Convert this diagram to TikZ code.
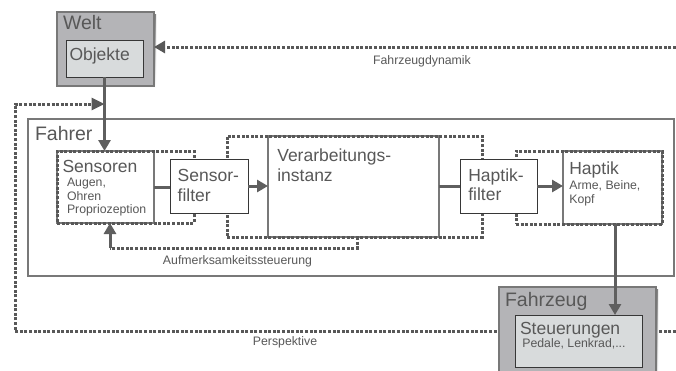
\documentclass[tikz,border=0pt]{standalone}
\usepackage{fontspec}
\setmainfont{Liberation Sans}
\usetikzlibrary{arrows.meta}
\definecolor{txt}{RGB}{88,88,88}
\definecolor{ln}{RGB}{95,95,95}
\definecolor{dot}{RGB}{88,88,88}
\definecolor{edge}{RGB}{120,120,120}
\definecolor{dark}{RGB}{55,55,55}
\definecolor{outerfill}{RGB}{180,180,183}
\definecolor{innerfill}{RGB}{216,219,220}
\definecolor{shade}{RGB}{110,110,110}
\begin{document}
\begin{tikzpicture}[x=1pt,y=-1pt,
  every node/.style={inner sep=0pt, outer sep=0pt},
  frame/.style={anchor=north west, line width=1.2pt},
  big/.style={font=\fontsize{19.5}{22}\selectfont, text=txt, anchor=base west},
  mid/.style={font=\fontsize{17.5}{20}\selectfont, text=txt, anchor=base west},
  small/.style={font=\fontsize{12.3}{14}\selectfont, text=txt, anchor=base west},
  lbl/.style={font=\fontsize{12.3}{14}\selectfont, text=txt, anchor=base},
  conn/.style={draw=ln, line width=3pt},
  tip/.style={-{Triangle[length=11pt,width=12pt]}},
  dotline/.style={draw=dot, line width=3pt, dash pattern=on 3pt off 1.6pt},
  grp/.style={dotline, anchor=north west}
]
\clip (0,0) rectangle (676,370);
\fill[white] (0,0) rectangle (676,370);

% Welt
\fill[shade] (59,14) rectangle (156,88);
\node[frame, draw=edge, fill=outerfill, minimum width=97pt, minimum height=74pt] (welt) at (57,12) {};
\node[frame, draw=dark, line width=0.9pt, fill=innerfill, minimum width=77pt, minimum height=37pt] (objekte) at (66,40) {};

% Fahrer
\node[frame, draw=edge, line width=1.6pt, minimum width=646pt, minimum height=157pt] (fahrer) at (28,119) {};

% Perspektive loop
\coordinate (pR) at (676,331);
\coordinate (pL) at (15,331);
\coordinate (pT) at (15,104);
\draw[dotline, -{Triangle[length=13pt,width=12pt]}] (pR) -- (pL) -- (pT) -- (pT -| objekte.south);

% Fahrzeugdynamik
\coordinate (fdR) at (676,47);
\draw[dotline, -{Triangle[length=11pt,width=12pt]}] (fdR) -- (welt.east |- fdR);

% main boxes
\node[frame, draw=edge, line width=2.4pt, fill=white, minimum width=97pt, minimum height=72pt] (sensoren) at (57,151) {};
\node[frame, draw=edge, line width=2.4pt, fill=white, minimum width=171pt, minimum height=101pt] (verarb) at (268,136) {};
\node[frame, draw=edge, line width=2.4pt, fill=white, minimum width=99pt, minimum height=73pt] (haptik) at (563,151) {};

% dotted groups
\node[grp, minimum width=137pt, minimum height=72pt] (sgrp) at (57,151) {};
\node[grp, minimum width=255pt, minimum height=101pt] (vgrp) at (227,136) {};
\node[grp, minimum width=146pt, minimum height=73pt] (hgrp) at (516,151) {};

% filters
\node[frame, draw=dark, line width=0.9pt, fill=white, minimum width=78pt, minimum height=54pt] (sfilter) at (170,159) {};
\node[frame, draw=dark, line width=0.9pt, fill=white, minimum width=77pt, minimum height=54pt] (hfilter) at (460,159) {};

% connectors
\draw[conn, tip] (objekte.south) -- (objekte.south |- sensoren.north);
\draw[conn] (sensoren.east) -- (sensoren.east -| sfilter.west);
\draw[conn, tip] (sfilter.east) -- (sfilter.east -| verarb.west);
\draw[conn] (verarb.east) -- (verarb.east -| hfilter.west);
\draw[conn, tip] (hfilter.east) -- (hfilter.east -| haptik.west);

% Aufmerksamkeit
\coordinate (a1) at (357,248);
\coordinate (a2) at (110,248);
\draw[dotline] (vgrp.south -| a1) -- (a1) -- (a2);
\draw[conn, tip] (a2) -- (a2 |- sensoren.south);

% Fahrzeug
\fill[shade] (501,289) rectangle (658,390);
\node[frame, draw=edge, fill=outerfill, minimum width=157pt, minimum height=100pt] (fahrzeug) at (499,287) {};
\node[frame, draw=dark, line width=0.9pt, fill=innerfill, minimum width=127pt, minimum height=52pt] (steuer) at (515,315) {};
\draw[conn, tip] ([xshift=2.5pt]haptik.south) -- ([xshift=2.5pt]haptik.south |- steuer.north);

% texts
\node[big] (tWelt) at (63,29.5) {Welt};
\node[mid] (tObj) at (69.5,60) {Objekte};
\node[big] (tFahrer) at (35,140) {Fahrer};
\node[mid] (tSens) at (62.5,172.3) {Sensoren};
\node[small] (tAug) at (67,186.5) {Augen,};
\node[small] (tOhr) at (67,200) {Ohren};
\node[small] (tProp) at (67,213.3) {Propriozeption};
\node[mid] (tSf1) at (177.7,181) {Sensor-};
\node[mid] (tSf2) at (177.7,201) {filter};
\node[mid] (tV1) at (277.3,161.7) {Verarbeitungs-};
\node[mid] (tV2) at (277.3,181) {instanz};
\node[mid] (tHf1) at (468.3,181) {Haptik-};
\node[mid] (tHf2) at (468.3,200.7) {filter};
\node[mid] (tHap) at (569.3,174) {Haptik};
\node[small] (tArme) at (569.3,189) {Arme, Beine,};
\node[small] (tKopf) at (569.3,203.3) {Kopf};
\node[big] (tFz) at (505,306.7) {Fahrzeug};
\node[mid] (tSt) at (520,334) {Steuerungen};
\node[small] (tPed) at (522.3,347.3) {Pedale, Lenkrad,...};
\node[lbl] (tFd) at (422,64.5) {Fahrzeugdynamik};
\node[lbl] (tAuf) at (237.5,264) {Aufmerksamkeitssteuerung};
\node[lbl] (tPer) at (285,345) {Perspektive};
\end{tikzpicture}
\end{document}
